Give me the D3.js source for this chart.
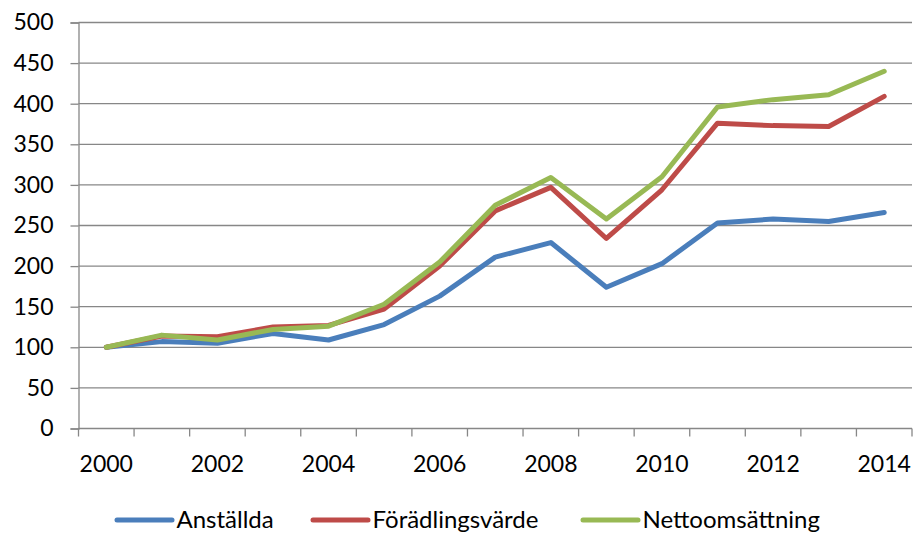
<!DOCTYPE html>
<html>
<head>
<meta charset="utf-8">
<script src="https://cdn.jsdelivr.net/npm/d3@7"></script>
<style>
  body { margin: 0; background: #fff; }
  svg text { font-family: Lato, "Open Sans", sans-serif; fill: #000; }
</style>
</head>
<body>
<svg id="chart" width="918" height="533"></svg>
<script>
// data
const years = d3.range(2000, 2015);
const yearLabels = ["2000", "2002", "2004", "2006", "2008", "2010", "2012", "2014"];
const yTicks = [0, 50, 100, 150, 200, 250, 300, 350, 400, 450, 500];

const anstallda = [100, 107, 105, 117, 109, 128, 163, 211, 229, 174, 203, 253, 258, 255, 266];
const foradlingsvarde = [100, 114, 113, 125, 127, 147, 200, 268, 297, 234, 294, 376, 373, 372, 409];
const nettoomsattning = [100, 115, 109, 122, 126, 153, 205, 275, 309, 258, 310, 396, 405, 411, 440];

const series = [
    {name: "Anställda", values: anstallda, color: "#4A7EBB"},
    {name: "Förädlingsvärde", values: foradlingsvarde, color: "#BE4B48"},
    {name: "Nettoomsättning", values: nettoomsattning, color: "#98B954"}
];

const svg = d3.select("#chart");
const plot = {left: 78.5, right: 912, top: 22.5, bottom: 428.5};
const gridColor = "#878787";

var x = d3.scaleBand().domain(years).range([plot.left, plot.right]).paddingInner(0).paddingOuter(0);
var y = d3.scaleLinear().domain([0, 500]).range([plot.bottom, plot.top]);

// horizontal gridlines
svg.append("g").selectAll("line").data(yTicks.filter(d => d > 0)).join("line")
    .attr("x1", plot.left).attr("x2", plot.right)
    .attr("y1", d => y(d)).attr("y2", d => y(d))
    .attr("stroke", gridColor).attr("stroke-width", 1.3);

// y axis
var yAxis = svg.append("g").attr("transform", `translate(${plot.left},0)`)
    .call(d3.axisLeft(y).tickValues(yTicks).tickSize(8).tickPadding(17));
yAxis.select(".domain").attr("stroke", gridColor).attr("stroke-width", 1.3);
yAxis.selectAll(".tick line").attr("stroke", gridColor).attr("stroke-width", 1.3);
yAxis.selectAll("text").attr("font-size", 23).attr("font-family", "Lato, sans-serif").attr("fill", "#000");

// x axis: ticks on band boundaries, labels every other year
var xAxisG = svg.append("g").attr("transform", `translate(0,${plot.bottom})`);
xAxisG.append("line").attr("x1", plot.left).attr("x2", plot.right).attr("stroke", gridColor).attr("stroke-width", 1.3);
xAxisG.selectAll("line.tk").data(years.concat([2015])).join("line").attr("class", "tk")
    .attr("x1", d => d < 2015 ? x(d) : plot.right).attr("x2", d => d < 2015 ? x(d) : plot.right)
    .attr("y1", 0).attr("y2", 8)
    .attr("stroke", gridColor).attr("stroke-width", 1.3);
xAxisG.selectAll("text").data(yearLabels).join("text")
    .attr("x", d => x(+d) + x.bandwidth() / 2)
    .attr("y", 43)
    .attr("text-anchor", "middle")
    .attr("font-size", 23)
    .text(d => d);

// lines
var line = d3.line()
    .x((d, i) => x(years[i]) + x.bandwidth() / 2)
    .y(d => y(d));

svg.append("g").selectAll("path").data(series).join("path")
    .attr("d", d => line(d.values))
    .attr("fill", "none")
    .attr("stroke", d => d.color)
    .attr("stroke-width", 5)
    .attr("stroke-linejoin", "round")
    .attr("stroke-linecap", "round");

// legend
const legendX = [117, 313, 583];
var legend = svg.append("g").selectAll("g").data(series).join("g")
    .attr("transform", (d, i) => `translate(${legendX[i]},520)`);
legend.append("line")
    .attr("x1", 0).attr("x2", 55)
    .attr("stroke", d => d.color).attr("stroke-width", 5).attr("stroke-linecap", "round");
legend.append("text")
    .attr("x", 59.5).attr("y", 7.5)
    .attr("font-size", 24)
    .text(d => d.name);
</script>
</body>
</html>
